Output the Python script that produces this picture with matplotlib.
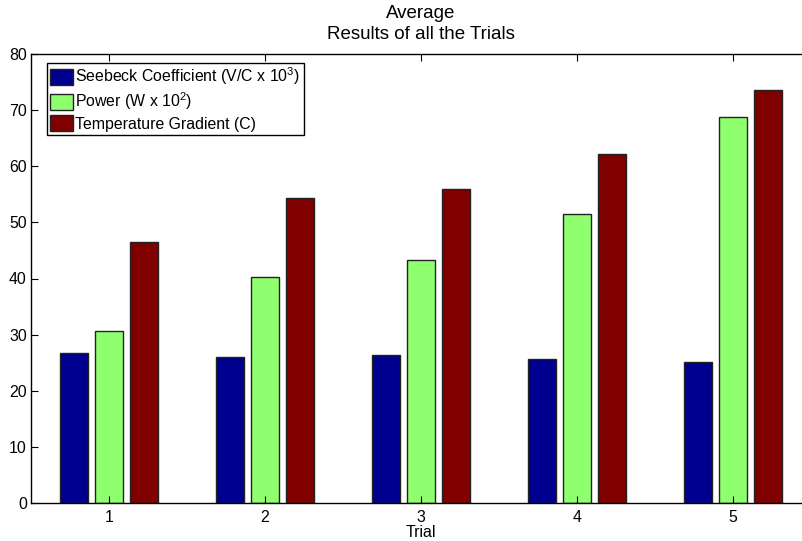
import matplotlib
matplotlib.use("Agg")
import matplotlib.pyplot as plt
import numpy as np

plt.rcParams['font.family'] = ['Liberation Sans', 'DejaVu Sans']
plt.rcParams['mathtext.fontset'] = 'custom'
plt.rcParams['mathtext.rm'] = 'Liberation Sans'
plt.rcParams['mathtext.it'] = 'Liberation Sans'

# Data
trials = [1, 2, 3, 4, 5]
seebeck = [26.7, 26.1, 26.3, 25.7, 25.2]
power = [30.6, 40.3, 43.3, 51.5, 68.8]
temp_grad = [46.5, 54.4, 55.9, 62.2, 73.5]
labels = [r'Seebeck Coefficient (V/C x 10$^3$)',
          r'Power (W x 10$^2$)',
          'Temperature Gradient (C)']
colors = ['#00008F', '#8FFF70', '#800000']

fig = plt.figure(figsize=(8.03, 5.41), dpi=100)
# right edge of the axes falls past the figure edge, as in the original
ax = fig.add_axes([31 / 803, 38 / 541, 780 / 803, 449 / 541])

x = np.array(trials)
offset = 0.2222
width = 0.18
for i, (vals, lab, col) in enumerate(zip([seebeck, power, temp_grad], labels, colors)):
    ax.bar(x + (i - 1) * offset, vals, width, color=col, edgecolor='#222222',
           linewidth=1.0, label=lab)

ax.set_xlim(0.5, 5.5)
ax.set_ylim(0, 80)
ax.set_xticks(trials)
ax.set_yticks(range(0, 81, 10))
ax.tick_params(direction='in', top=True, right=True, length=5, labelsize=11.4, pad=3)
ax.tick_params(axis='x', pad=5)
for s in ax.spines.values():
    s.set_linewidth(1.0)

ax.set_xlabel('Trial', fontsize=11.4, labelpad=0)
ax.set_title('Average\nResults of all the Trials', fontsize=13.5, pad=11, linespacing=1.3)

leg = ax.legend(loc='upper left', bbox_to_anchor=(0.0205, 0.981), borderaxespad=0,
                fontsize=11.4, handlelength=1.45, handleheight=1.15, handletextpad=0.15,
                labelspacing=0.2, borderpad=0.2, fancybox=False, framealpha=1,
                edgecolor='black')
leg.get_frame().set_linewidth(1.0)

fig.savefig('out.png', dpi=100)
